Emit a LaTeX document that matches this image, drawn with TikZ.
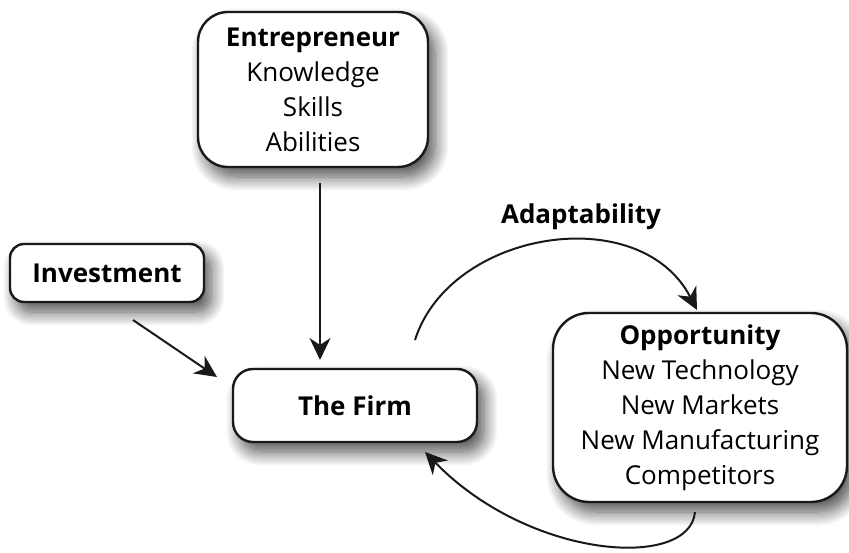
\documentclass[tikz,border=0pt]{standalone}
\usepackage{fontspec}
\setmainfont{Open Sans}
\usetikzlibrary{arrows.meta,shadows.blur}
\tikzset{
  box/.style={draw=black!90, line width=2.4pt, fill=white, align=center,
    inner sep=0pt, font=\fontsize{26}{35}\selectfont,
    blur shadow={shadow xshift=7pt, shadow yshift=-10pt, shadow blur steps=14, shadow blur radius=14pt, shadow opacity=70}},
  conn/.style={line width=2pt, draw=black!90, -{Stealth[length=22pt,width=21pt,inset=7pt]}},
  lbl/.style={font=\fontsize{26}{35}\selectfont\bfseries}
}
\begin{document}
\begin{tikzpicture}[x=1pt,y=-1pt]
\useasboundingbox (0,0) rectangle (849,553);
\node[box, rounded corners=30pt, minimum width=230pt, minimum height=155pt] (ent) at (313,89.5)
  {\textbf{Entrepreneur}\\Knowledge\\Skills\\Abilities};
\node[box, rounded corners=14pt, minimum width=194pt, minimum height=58pt] (inv) at (107,273)
  {\textbf{Investment}};
\node[box, rounded corners=20pt, minimum width=244pt, minimum height=73pt] (firm) at (355,405.5)
  {\textbf{The Firm}};
\node[box, rounded corners=36pt, minimum width=294pt, minimum height=189pt] (opp) at (700,407.5)
  {\textbf{Opportunity}\\New Technology\\New Markets\\New Manufacturing\\Competitors};
\node[lbl] (adapt) at (581,217) {Adaptability};
\coordinate (entbot) at (320,183);
\coordinate (firmtop) at (320,360);
\coordinate (invbot) at (133,320);
\coordinate (firmleft) at (217,377);
\coordinate (firmup) at (415,340);
\coordinate (opptop) at (697,310);
\coordinate (oppbot) at (695,512);
\coordinate (firmdown) at (425,452);
\draw[conn] (entbot) -- (firmtop);
\draw[conn] (invbot) -- (firmleft);
\draw[conn] (firmup) .. controls (450,230) and (640,200) .. (opptop);
\draw[conn] (oppbot) .. controls (690,570) and (530,560) .. (firmdown);
\end{tikzpicture}
\end{document}
